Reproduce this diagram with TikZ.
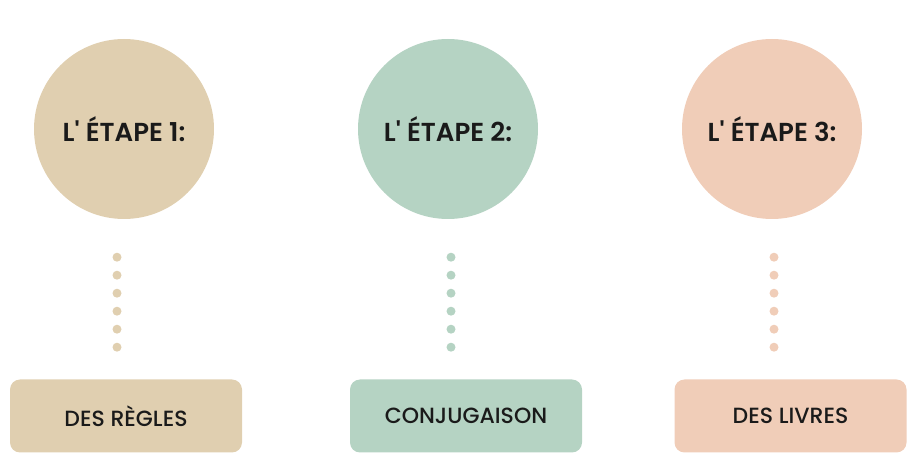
\documentclass[tikz,border=0pt]{standalone}
\usepackage{xcolor}
\usepackage{fontspec}
\setmainfont{Poppins}
\newfontfamily\popsemi{Poppins SemiBold}
\newfontfamily\popmed{Poppins Medium}
\usepackage{tikz}
\usetikzlibrary{calc,positioning}

\definecolor{beige}{HTML}{E0CFB0}
\definecolor{sage}{HTML}{B5D3C3}
\definecolor{peach}{HTML}{F0CDB8}
\definecolor{ink}{HTML}{1A1A1A}

\begin{document}
\begin{tikzpicture}[x=1pt, y=1pt,
    stepcircle/.style={circle, minimum size=180pt, inner sep=0pt, text=ink, font=\fontsize{26}{30}\popsemi},
    stepbox/.style={rounded corners=10pt, minimum width=232pt, minimum height=73pt, text=ink, font=\fontsize{22}{26}\popmed},
    dotline/.style={line width=9pt, line cap=round, dash pattern=on 0pt off 18pt, shorten <=38pt, shorten >=30pt}]
    \useasboundingbox (0,0) rectangle (916,471);

    \node [stepcircle, fill=beige] (etape1) at (124,342) {L\textquotesingle{} ÉTAPE 1:};
    \node [stepcircle, fill=sage] (etape2) at (448,342) {L\textquotesingle{} ÉTAPE 2:};
    \node [stepcircle, fill=peach] (etape3) at (772,342) {L\textquotesingle{} ÉTAPE 3:};

    \node [stepbox, fill=beige] (regles) at (126,55) {DES RÈGLES};
    \node [stepbox, fill=sage] (conjugaison) at (466,55) {CONJUGAISON};
    \node [stepbox, fill=peach] (livres) at (790.5,55) {DES LIVRES};

    \draw [dotline, beige] ([xshift=-7pt]etape1.south) -- ([xshift=-7pt]etape1.south |- regles.north);
    \draw [dotline, sage] ([xshift=3pt]etape2.south) -- ([xshift=3pt]etape2.south |- conjugaison.north);
    \draw [dotline, peach] ([xshift=2pt]etape3.south) -- ([xshift=2pt]etape3.south |- livres.north);

\end{tikzpicture}
\end{document}
